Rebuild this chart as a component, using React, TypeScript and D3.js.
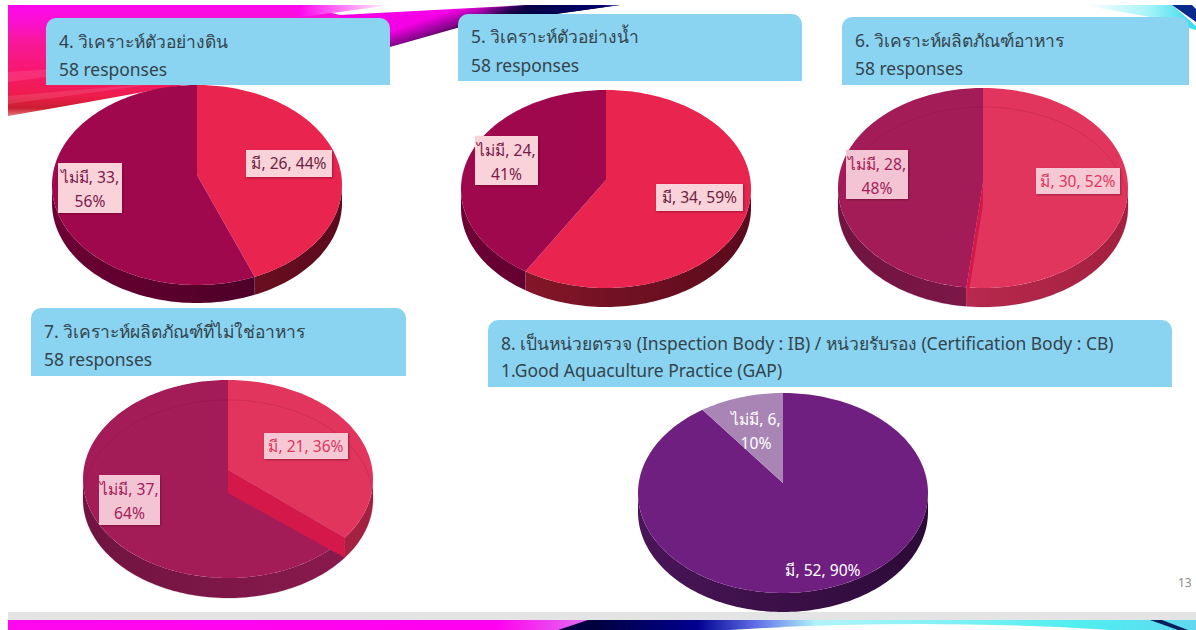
import * as d3 from "d3";

// values
const titles = [
  "4. วิเคราะห์ตัวอย่างดิน",
  "5. วิเคราะห์ตัวอย่างน้ำ",
  "6. วิเคราะห์ผลิตภัณฑ์อาหาร",
  "7. วิเคราะห์ผลิตภัณฑ์ที่ไม่ใช่อาหาร",
  "8. เป็นหน่วยตรวจ (Inspection Body : IB) / หน่วยรับรอง (Certification Body : CB)",
];
const subtitles = ["58 responses", "58 responses", "58 responses", "58 responses", "1.Good Aquaculture Practice (GAP)"];
const categories = ["มี", "ไม่มี"];
const haveCounts = [26, 34, 30, 21, 52];
const noneCounts = [33, 24, 28, 37, 6];
const havePercents = [44, 59, 52, 36, 90];
const nonePercents = [56, 41, 48, 64, 10];

// layout of each pie on the slide
const pieLayout = [
  { cx: 197, cy: 185, rx: 145, ry: 100, apex: 175, depth: 18, theme: "solid" },
  { cx: 606, cy: 189, rx: 145, ry: 99, apex: 180, depth: 19, theme: "solid" },
  { cx: 983, cy: 188, rx: 145, ry: 100, apex: 183, depth: 19, theme: "glass" },
  { cx: 228, cy: 479, rx: 145, ry: 99, apex: 470, depth: 20, theme: "glass" },
  { cx: 783, cy: 493, rx: 145, ry: 100, apex: 483, depth: 19, theme: "purple" },
];
const headerLayout = [
  { x: 46, y: 18, w: 344, h: 67, tx: 59, t1: 48, t2: 76 },
  { x: 458, y: 14, w: 344, h: 67, tx: 471, t1: 43, t2: 72 },
  { x: 842, y: 17, w: 347, h: 68, tx: 855, t1: 47, t2: 75 },
  { x: 31, y: 308, w: 375, h: 68, tx: 44, t1: 338, t2: 366 },
  { x: 488, y: 320, w: 684, h: 67, tx: 501, t1: 350, t2: 377 },
];
// [have box, none box]
const labelLayout = [
  [{ x: 246, y: 150, w: 86, h: 27 }, { x: 58, y: 163, w: 64, h: 50 }],
  [{ x: 656, y: 184, w: 87, h: 27 }, { x: 475, y: 136, w: 63, h: 49 }],
  [{ x: 1036, y: 168, w: 84, h: 26 }, { x: 846, y: 150, w: 62, h: 49 }],
  [{ x: 264, y: 433, w: 84, h: 26 }, { x: 99, y: 475, w: 61, h: 50 }],
  [{ x: 782, y: 557, w: 82, h: 26 }, { x: 730, y: 405, w: 52, h: 48 }],
];

const themes: Record<string, any> = {
  solid: {
    face: ["#e8244f", "#a0084e"],
    side: [["#8f1a2c", "#5a0a1c"], ["#6d0034", "#3e0022"]],
    text: ["#6e1f3e", "#7a1a4c"],
    box: ["#fad2da", "#fad2da"],
  },
  glass: {
    face: ["#e2355d", "#a31c58"],
    side: [["#c8305a", "#a3203f"], ["#701440", "#8c1a50"]],
    text: ["#e2355d", "#a31c58"],
    box: ["#f6c8d4", "#f2c4d4"],
    wall: "#d5184a",
    ring: "rgba(120,10,60,0.2)",
  },
  purple: {
    face: ["#6f1f80", "#a985b5"],
    side: [["#4a1558", "#2c0a38"], ["#4a1558", "#4a1558"]],
    text: ["#ffffff", "#ffffff"],
    box: null,
  },
};

const pieGen = d3.pie<number>().sort(null).value((d) => d);

function sampleAngles(a0: number, a1: number) {
  const n = Math.max(2, Math.ceil((a1 - a0) * 40));
  return d3.range(n + 1).map((i) => a0 + ((a1 - a0) * i) / n);
}

function PieChart({ index }: { index: number }) {
  const p = pieLayout[index];
  const theme = themes[p.theme];
  const arcs = pieGen([haveCounts[index], noneCounts[index]]);
  const xScale = d3.scaleLinear().domain([-1, 1]).range([p.cx - p.rx, p.cx + p.rx]);
  const yScale = d3.scaleLinear().domain([-1, 1]).range([p.cy - p.ry, p.cy + p.ry]);
  const line = d3.line<[number, number]>();
  // the hub sits above the ellipse centre, so cast a ray from it to the rim
  const d0 = (p.cy - p.apex) / p.ry;
  const rim = (a: number, dy = 0): [number, number] => {
    const ux = Math.sin(a);
    const uy = -Math.cos(a);
    const b = -d0 * uy;
    const t = -b + Math.sqrt(b * b + 1 - d0 * d0);
    return [xScale(t * ux), yScale(-d0 + t * uy) + dy];
  };
  const sideStart = Math.atan2(1, -d0);
  const sideEnd = Math.PI * 2 - sideStart;
  const ringAngles = sampleAngles(0, Math.PI * 2);

  return (
    <g>
      <defs>
        {arcs.map((_, i) => (
          <linearGradient key={i} id={`side-${index}-${i}`} gradientUnits="userSpaceOnUse"
            x1={p.cx - p.rx} x2={p.cx + p.rx} y1={0} y2={0}>
            <stop offset="0" stopColor={theme.side[i][0]} />
            <stop offset="1" stopColor={theme.side[i][1]} />
          </linearGradient>
        ))}
      </defs>
      {/* side wall, only the lower half of the rim is visible */}
      {arcs.map((a, i) => {
        const a0 = Math.max(a.startAngle, sideStart);
        const a1 = Math.min(a.endAngle, sideEnd);
        if (a1 <= a0) return null;
        const angles = sampleAngles(a0, a1);
        const pts = [...angles.map((t) => rim(t)), ...angles.slice().reverse().map((t) => rim(t, p.depth))];
        return <path key={i} d={line(pts) + "Z"} fill={`url(#side-${index}-${i})`} />;
      })}
      {/* top face */}
      {arcs.map((a, i) => {
        const pts: [number, number][] = [[p.cx, p.apex], ...sampleAngles(a.startAngle, a.endAngle).map((t) => rim(t))];
        return <path key={i} d={line(pts) + "Z"} fill={theme.face[i]} />;
      })}
      {/* see-through pies show the inner wall and the bottom rim */}
      {theme.wall && (
        <path
          d={line([
            [p.cx, p.apex],
            rim(arcs[0].endAngle),
            rim(arcs[0].endAngle, p.depth),
            [p.cx, p.apex + p.depth + 3],
          ]) + "Z"}
          fill={theme.wall}
        />
      )}
      {theme.ring && (
        <path d={line(ringAngles.map((t) => rim(t, p.depth))) + "Z"} fill="none" stroke={theme.ring} strokeWidth={1} />
      )}
    </g>
  );
}

function PieLabels({ index }: { index: number }) {
  const theme = themes[pieLayout[index].theme];
  const counts = [haveCounts[index], noneCounts[index]];
  const percents = [havePercents[index], nonePercents[index]];
  return (
    <g fontFamily="'Noto Sans', sans-serif" fontSize={15.6} textAnchor="middle">
      {labelLayout[index].map((b, i) => {
        const twoLines = b.h > 35;
        const mx = b.x + b.w / 2;
        return (
          <g key={i}>
            {theme.box && (
              <rect x={b.x} y={b.y} width={b.w} height={b.h} fill={theme.box[i]} filter="url(#labelShadow)" />
            )}
            {twoLines ? (
              <>
                <text x={mx} y={b.y + 20} fill={theme.text[i]}>{`${categories[i]}, ${counts[i]},`}</text>
                <text x={mx} y={b.y + 44} fill={theme.text[i]}>{`${percents[i]}%`}</text>
              </>
            ) : (
              <text x={mx} y={b.y + 19} fill={theme.text[i]}>{`${categories[i]}, ${counts[i]}, ${percents[i]}%`}</text>
            )}
          </g>
        );
      })}
    </g>
  );
}

function Header({ index }: { index: number }) {
  const h = headerLayout[index];
  const r = 10;
  const path = d3.path();
  path.moveTo(h.x, h.y + h.h);
  path.lineTo(h.x, h.y + r);
  path.arcTo(h.x, h.y, h.x + r, h.y, r);
  path.lineTo(h.x + h.w - r, h.y);
  path.arcTo(h.x + h.w, h.y, h.x + h.w, h.y + r, r);
  path.lineTo(h.x + h.w, h.y + h.h);
  path.closePath();
  return (
    <g fontFamily="'Noto Sans', sans-serif" fontSize={17.45} fill="#33444c">
      <path d={path.toString()} fill="#8ad3f1" />
      <text x={h.tx} y={h.t1}>{titles[index]}</text>
      <text x={h.tx} y={h.t2}>{subtitles[index]}</text>
    </g>
  );
}

function Ribbons() {
  return (
    <g>
      <defs>
        <linearGradient id="pink" x1="0" x2="0" y1="0" y2="1">
          <stop offset="0" stopColor="#ff08ee" />
          <stop offset="0.16" stopColor="#fb10d0" />
          <stop offset="0.32" stopColor="#f8189c" />
          <stop offset="0.6" stopColor="#f8186e" />
          <stop offset="0.82" stopColor="#ee1c4c" />
          <stop offset="0.93" stopColor="#c81f30" />
          <stop offset="1" stopColor="#ec7a80" />
        </linearGradient>
        <linearGradient id="paleTail" gradientUnits="userSpaceOnUse" x1={300} x2={390} y1={0} y2={0}>
          <stop offset="0" stopColor="#ff08ee" />
          <stop offset="1" stopColor="#ffffff" />
        </linearGradient>
        <linearGradient id="violet" gradientUnits="userSpaceOnUse" x1={415} y1={8} x2={428} y2={46}>
          <stop offset="0.35" stopColor="#f500e6" />
          <stop offset="0.7" stopColor="#8a0490" />
          <stop offset="1" stopColor="#0a0010" />
        </linearGradient>
        <linearGradient id="navyTip" gradientUnits="userSpaceOnUse" x1={480} y1={0} x2={625} y2={0}>
          <stop offset="0" stopColor="#00004a" stopOpacity={0} />
          <stop offset="0.4" stopColor="#00004a" />
          <stop offset="0.85" stopColor="#000070" />
          <stop offset="1" stopColor="#9090d0" />
        </linearGradient>
        <linearGradient id="cyanTop" gradientUnits="userSpaceOnUse" x1={1085} y1={0} x2={1190} y2={0}>
          <stop offset="0" stopColor="#ffffff" />
          <stop offset="0.6" stopColor="#a8f4f8" />
          <stop offset="1" stopColor="#40dcf0" />
        </linearGradient>
        <linearGradient id="bottomBand" gradientUnits="userSpaceOnUse" x1={8} x2={1196} y1={0} y2={0}>
          <stop offset="0" stopColor="#ff08ee" />
          <stop offset="0.41" stopColor="#ff00f0" />
          <stop offset="0.49" stopColor="#e070f0" />
          <stop offset="0.495" stopColor="#000040" />
          <stop offset="0.58" stopColor="#000090" />
          <stop offset="0.63" stopColor="#6070e8" />
          <stop offset="0.68" stopColor="#b0f4fa" />
          <stop offset="0.9" stopColor="#50eef0" />
          <stop offset="1" stopColor="#60d8f0" />
        </linearGradient>
        <filter id="labelShadow" x="-10%" y="-10%" width="125%" height="125%">
          <feDropShadow dx={1} dy={1} stdDeviation={1.2} floodColor="#50001c" floodOpacity={0.45} />
        </filter>
      </defs>
      <path d="M8,5 L300,5 L340,15 L340,62 L165,88 Q90,102 8,116 Z" fill="url(#pink)" />
      <path d="M290,5 L390,5 L340,12 L300,17 Z" fill="url(#paleTail)" />
      <path d="M8,72 L160,62 L8,82 Z M8,96 L170,82 L8,104 Z" fill="#ffffff" opacity={0.1} />
      <path d="M340,15 L527,5 L620,5 L457,28 L390,47 L340,62 Z" fill="url(#violet)" />
      <path d="M470,10 L527,5 L620,5 L490,23 Z" fill="url(#navyTip)" />
      <path d="M1085,5 L1172,5 L1196,26 L1196,30 L1150,17 L1105,9 Z" fill="url(#cyanTop)" />
      <path d="M1172,5 L1192,5 L1196,9 L1196,22 Z" fill="#0a2a8c" />
      <rect x={8} y={612} width={1188} height={8} fill="#e4e4e4" />
      <rect x={8} y={620} width={1188} height={10} fill="url(#bottomBand)" />
      <path d="M588,620 L600,620 L600,630 L558,630 Z" fill="#000040" />
      <path d="M730,630 Q920,618 1110,630 Z" fill="#ffffff" />
      <path d="M1150,620 L1162,620 L1188,630 L1178,630 Z" fill="#06205f" />
    </g>
  );
}

export default function App() {
  return (
    <svg width={1196} height={630} viewBox="0 0 1196 630" style={{ position: "absolute", left: 0, top: 0, background: "#fff" }}>
      <Ribbons />
      {pieLayout.map((_, i) => <PieChart key={i} index={i} />)}
      {headerLayout.map((_, i) => <Header key={i} index={i} />)}
      {pieLayout.map((_, i) => <PieLabels key={i} index={i} />)}
      <text x={1178} y={587} fontFamily="'Noto Sans', sans-serif" fontSize={12} fill="#8c8c8c">13</text>
    </svg>
  );
}
